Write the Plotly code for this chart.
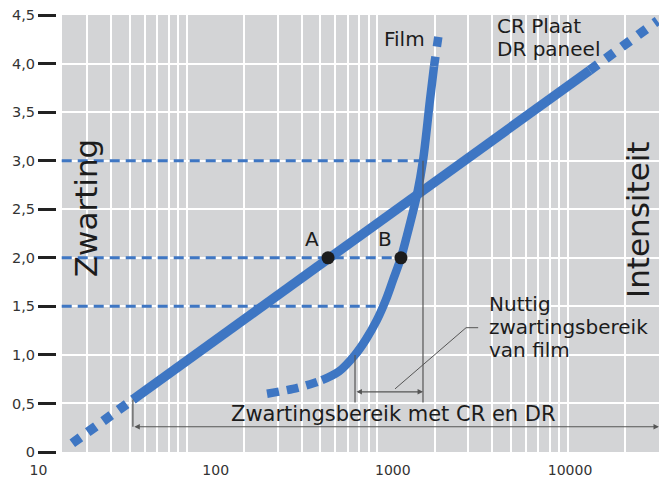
import math
import plotly.graph_objects as go

# ---- data -------------------------------------------------------------
# CR plate / DR panel characteristic: density vs. relative intensity
crdr_exposure = [25, 52, 13000, 29500]
crdr_density = [0.09, 0.54, 3.93, 4.44]

# Film characteristic curve
film_exposure = [263, 360, 464, 511, 628, 762, 870, 994, 1108, 1206, 1328,
                 1411, 1612, 1733, 1887, 1980, 2105]
film_density = [0.60, 0.65, 0.71, 0.74, 0.83, 1.00, 1.16, 1.36, 1.57, 1.77,
                2.00, 2.19, 2.65, 3.00, 3.63, 3.97, 4.33]

# Marked points at density 2.0
point_labels = ["A", "B"]
point_exposure = [550, 1328]
point_density = [2.0, 2.0]

# Reference density levels and where they meet the film curve
level_density = [3.0, 2.0, 1.5]
level_end_exposure = [1733, 1328, 1050]
level_start_exposure = 22

# Useful ranges
film_useful_range = [762, 1733]      # film between density 1.0 and 3.0
crdr_useful_range = [52, 30000]

# Axis ticks
y_tickvals = [0, 0.5, 1.0, 1.5, 2.0, 2.5, 3.0, 3.5, 4.0, 4.5]
y_ticktext = ["0", "0,5", "1,0", "1,5", "2,0", "2,5", "3,0", "3,5", "4,0", "4,5"]
x_tickvals = [10, 100, 1000, 10000]
x_ticktext = ["10", "100", "1000", "10000"]

# ---- styling ----------------------------------------------------------
BLUE = "#3e76c3"
GREY_BG = "#d3d4d6"
INK = "#1c1c1c"
THIN = "#555555"
FONT = "DejaVu Sans"

W, H = 659, 477
ML, MR, MT, MB = 30, 0, 15, 25
PW = W - ML - MR
PH = H - MT - MB

lg = math.log10

fig = go.Figure()

# dashed reference levels
for d, xe in zip(level_density, level_end_exposure):
    fig.add_trace(go.Scatter(
        x=[level_start_exposure, xe], y=[d, d], mode="lines",
        line=dict(color=BLUE, width=3, dash="10px,6px"),
        hoverinfo="skip", showlegend=False))

# CR / DR straight characteristic: dashed tails, solid useful part
fig.add_trace(go.Scatter(
    x=crdr_exposure[0:2], y=crdr_density[0:2], mode="lines",
    line=dict(color=BLUE, width=9.5, dash="10px,9px"), showlegend=False))
fig.add_trace(go.Scatter(
    x=crdr_exposure[1:3], y=crdr_density[1:3], mode="lines",
    line=dict(color=BLUE, width=9.5), showlegend=False))
fig.add_trace(go.Scatter(
    x=crdr_exposure[2:4], y=crdr_density[2:4], mode="lines",
    line=dict(color=BLUE, width=9.5, dash="10px,10px"), showlegend=False))

# Film curve: dashed toe, solid body, dashed shoulder
fig.add_trace(go.Scatter(
    x=film_exposure[0:4], y=film_density[0:4], mode="lines",
    line=dict(color=BLUE, width=8.5, dash="12px,8px", shape="spline"),
    showlegend=False))
fig.add_trace(go.Scatter(
    x=film_exposure[3:16], y=film_density[3:16], mode="lines",
    line=dict(color=BLUE, width=8.5, shape="spline", smoothing=1.0),
    showlegend=False))
fig.add_trace(go.Scatter(
    x=film_exposure[15:17], y=film_density[15:17], mode="lines",
    line=dict(color=BLUE, width=8.5, dash="10px,10px"), showlegend=False))

# Bracket ticks for the useful ranges
film_lo, film_hi = film_useful_range
fig.add_trace(go.Scatter(
    x=[film_lo, film_lo, None, film_hi, film_hi],
    y=[1.0, 0.51, None, 3.0, 0.51], mode="lines",
    line=dict(color=THIN, width=1.2), showlegend=False))
cr_lo, cr_hi = crdr_useful_range
fig.add_trace(go.Scatter(
    x=[cr_lo, cr_lo], y=[crdr_density[1], 0.26], mode="lines",
    line=dict(color=THIN, width=1.2), showlegend=False))

# Leader line to the film-range caption
fig.add_trace(go.Scatter(
    x=[1236, 2917, 3376], y=[0.65, 1.28, 1.28], mode="lines",
    line=dict(color=THIN, width=1), showlegend=False))

# Points A and B
fig.add_trace(go.Scatter(
    x=point_exposure, y=point_density, mode="markers",
    marker=dict(color=INK, size=13), showlegend=False))

# empty trace that carries the tick-label axis
fig.add_trace(go.Scatter(x=[], y=[], xaxis="x2", showlegend=False))

annotations = []


def txt(text, x, y, size=20, **kw):
    annotations.append(dict(text=text, x=x, y=y, showarrow=False,
                            font=dict(family=FONT, size=size, color=INK), **kw))


for lab, xe, d in zip(point_labels, point_exposure, point_density):
    txt(lab, lg(xe), d, xshift=-16, yshift=19)

LINE = 23 / PH * 4.5   # line step of stacked captions, in density units

txt("Film", lg(1820), 4.25, xanchor="right")
txt("CR Plaat", lg(4140), 4.39, xanchor="left")
txt("DR paneel", lg(4140), 4.39 - LINE, xanchor="left")
txt("Nuttig", lg(3760), 1.29 + LINE, xanchor="left")
txt("zwartingsbereik", lg(3760), 1.29, xanchor="left")
txt("van film", lg(3760), 1.29 - LINE, xanchor="left")
txt("Zwartingsbereik met CR en DR", 3.084, 0.39, size=21)

txt("Zwarting", (86 - ML) / PW, 0.558, size=31, xref="paper", yref="paper",
    textangle=-90, xanchor="center", yanchor="middle")
txt("Intensiteit", (638 - ML) / PW, 0.531, size=31, xref="paper",
    yref="paper", textangle=-90, xanchor="center", yanchor="middle")

# range arrows
for lo, hi, yy in [(film_lo, film_hi, 0.62), (cr_lo, cr_hi, 0.26)]:
    annotations.append(dict(
        x=lg(hi), y=yy, ax=lg(lo), ay=yy, axref="x", ayref="y",
        xref="x", yref="y", text="", showarrow=True, arrowside="end+start",
        arrowhead=2, arrowsize=0.9, arrowwidth=1.2, arrowcolor=THIN,
        standoff=0, startstandoff=0))

grid_vals = [m * 10 ** k for k in range(1, 5) for m in range(1, 10)]

fig.update_layout(
    width=W, height=H,
    margin=dict(l=ML, r=MR, t=MT, b=MB, pad=0),
    paper_bgcolor="white", plot_bgcolor="white",
    font=dict(family=FONT, color="#333333"),
    showlegend=False,
    shapes=[dict(type="rect", xref="paper", yref="paper",
                 x0=(62 - ML) / PW, x1=1, y0=0, y1=1,
                 fillcolor=GREY_BG, line=dict(width=0), layer="below")],
    annotations=annotations,
    xaxis=dict(type="log", range=[1.1759, 4.4777], automargin=False,
               tickvals=grid_vals, showticklabels=False, ticks="",
               showgrid=True, gridcolor="white", gridwidth=1.5,
               zeroline=False, showline=False),
    xaxis2=dict(type="log", range=[0.952, 4.502], overlaying="x",
                side="bottom", anchor="y", automargin=False,
                tickvals=x_tickvals, ticktext=x_ticktext,
                tickfont=dict(family=FONT, size=14, color="#333333"),
                ticks="", ticklabelstandoff=8,
                showgrid=False, zeroline=False, showline=False),
    yaxis=dict(range=[0, 4.5], anchor="free", position=(56 - ML) / PW,
               automargin=False,
               tickvals=y_tickvals, ticktext=y_ticktext,
               tickfont=dict(family=FONT, size=14.5, color="#333333"),
               ticks="outside", ticklen=18, tickwidth=2.5,
               tickcolor="#222222",
               showgrid=True, gridcolor="white", gridwidth=1.5,
               zeroline=False, showline=False),
)

fig.write_html("out.html")
